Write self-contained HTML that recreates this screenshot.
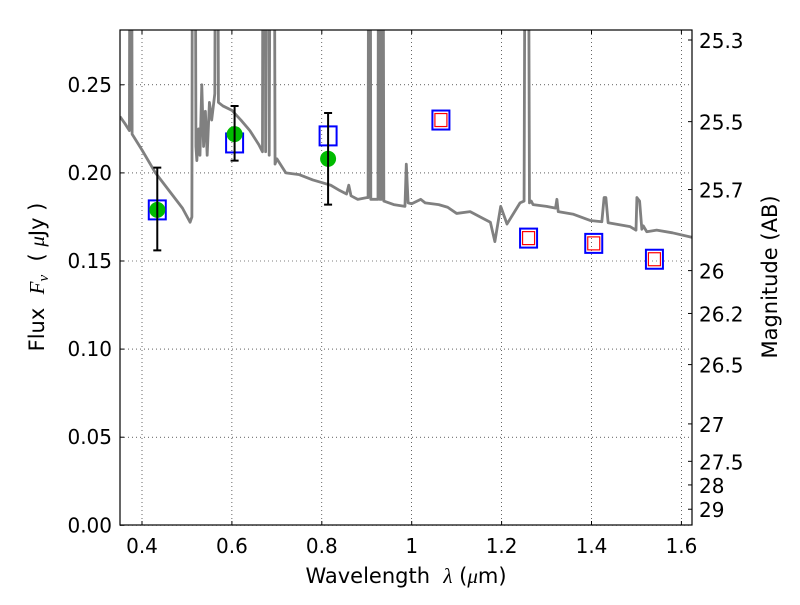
<!DOCTYPE html>
<html><head><meta charset="utf-8"><style>
html,body{margin:0;padding:0;background:#fff;}
svg text{font-family:"DejaVu Sans","Liberation Sans",sans-serif;fill:#000;}
</style></head><body>
<svg id="chart" width="800" height="600" xmlns="http://www.w3.org/2000/svg">
<defs><clipPath id="clip"><rect x="120" y="30" width="572" height="495"/></clipPath></defs>
<rect width="800" height="600" fill="#fff"/>
<g id="grid"></g>
<g id="spec" clip-path="url(#clip)"></g>
<g id="marks" clip-path="url(#clip)"></g>
<rect x="120" y="30" width="572" height="495" fill="none" stroke="#000" stroke-width="1.2"/>
<g id="axes"></g>
<text x="406" y="583" font-size="21" text-anchor="middle">Wavelength&#160;&#160;<tspan font-style="italic" font-family="Liberation Serif,serif">λ</tspan> (<tspan font-style="italic" font-family="Liberation Serif,serif">μ</tspan>m)</text>
<text transform="translate(44,277) rotate(-90)" font-size="21" text-anchor="middle">Flux&#160;&#160;<tspan font-style="italic" font-family="Liberation Serif,serif">F<tspan font-size="15" dy="4">ν</tspan></tspan><tspan dy="-4">&#160;&#160;(&#160;</tspan><tspan font-style="italic" font-family="Liberation Serif,serif">μ</tspan>Jy&#160;)</text>
<text transform="translate(777,277) rotate(-90)" font-size="21" text-anchor="middle">Magnitude (AB)</text>
</svg>
<script>
const xTicks=[0.4,0.6,0.8,1.0,1.2,1.4,1.6];
const xTickLabels=["0.4","0.6","0.8","1","1.2","1.4","1.6"];
const yTicks=[0,0.05,0.10,0.15,0.20,0.25];
const yTickLabels=["0.00","0.05","0.10","0.15","0.20","0.25"];
const magTicks=[25.3,25.5,25.7,26,26.2,26.5,27,27.5,28,29];
const magTickLabels=["25.3","25.5","25.7","26","26.2","26.5","27","27.5","28","29"];
const specLam=[0.351,0.362,0.372,0.374,0.376,0.378,0.40,0.43,0.46,0.49,0.507,0.511,0.513,0.517,0.520,0.522,0.526,0.529,0.533,0.537,0.541,0.545,0.55,0.555,0.562,0.565,0.567,0.570,0.58,0.60,0.62,0.64,0.66,0.668,0.670,0.673,0.675,0.677,0.679,0.683,0.687,0.689,0.691,0.693,0.696,0.70,0.72,0.75,0.78,0.80,0.82,0.84,0.855,0.86,0.865,0.88,0.90,0.903,0.905,0.907,0.909,0.925,0.927,0.929,0.933,0.935,0.938,0.96,0.985,0.988,0.992,1.0,1.02,1.03,1.06,1.08,1.10,1.13,1.16,1.175,1.185,1.198,1.212,1.241,1.250,1.254,1.258,1.262,1.266,1.27,1.30,1.32,1.323,1.326,1.36,1.397,1.423,1.428,1.432,1.437,1.486,1.499,1.501,1.507,1.512,1.515,1.523,1.545,1.58,1.624];
const specFlux=[0.232,0.228,0.224,0.5,0.5,0.222,0.213,0.200,0.190,0.180,0.172,0.175,0.5,0.5,0.215,0.207,0.225,0.210,0.25,0.215,0.235,0.210,0.24,0.23,0.245,0.5,0.5,0.24,0.238,0.2355,0.230,0.224,0.216,0.212,0.5,0.5,0.212,0.5,0.5,0.21,0.5,0.5,0.5,0.5,0.205,0.208,0.200,0.199,0.196,0.1945,0.193,0.190,0.188,0.193,0.187,0.185,0.186,0.186,0.5,0.5,0.185,0.185,0.5,0.185,0.185,0.5,0.184,0.182,0.181,0.205,0.183,0.1825,0.185,0.183,0.182,0.1805,0.177,0.178,0.174,0.172,0.161,0.181,0.171,0.183,0.184,0.5,0.5,0.183,0.184,0.182,0.181,0.180,0.185,0.178,0.1765,0.173,0.1723,0.186,0.186,0.1717,0.1695,0.1675,0.186,0.184,0.168,0.170,0.1666,0.1675,0.166,0.1634];
const obsLam=[0.434,0.606,0.814];
const obsFlux=[0.179,0.222,0.208];
const obsErrLo=[0.156,0.207,0.182];
const obsErrHi=[0.203,0.238,0.234];
const modelLam=[0.434,0.606,0.814,1.065,1.26,1.405,1.54];
const modelFlux=[0.179,0.217,0.221,0.230,0.163,0.160,0.151];
const predLam=[1.065,1.26,1.405,1.54];
const predFlux=[0.230,0.163,0.160,0.151];

const NS="http://www.w3.org/2000/svg";
const X=v=>142+(v-0.4)*449.5;
const Y=v=>525.3-v*1762;
const magToFlux=m=>Math.pow(10,(23.9-m)/2.5);
function mk(tag,attrs,parent){const e=document.createElementNS(NS,tag);for(const k in attrs)e.setAttribute(k,attrs[k]);parent.appendChild(e);return e;}
const grid=document.getElementById('grid'),axes=document.getElementById('axes'),spec=document.getElementById('spec'),marks=document.getElementById('marks');
xTicks.forEach((t,i)=>{
  const x=X(t);
  const g=mk('line',{x1:x,x2:x,y1:30,y2:525,stroke:'#000','stroke-width':0.6,'stroke-dasharray':'1,3'},grid);
  
  
  mk('line',{x1:x,x2:x,y1:525,y2:521,stroke:'#000'},axes);
  mk('line',{x1:x,x2:x,y1:30,y2:34,stroke:'#000'},axes);
  const tx=mk('text',{x:x,y:553,'font-size':20,'text-anchor':'middle'},axes);
  tx.textContent=xTickLabels[i];
  
  
});
yTicks.forEach((t,i)=>{
  const y=Y(t);
  const g=mk('line',{x1:120,x2:692,y1:y,y2:y,stroke:'#000','stroke-width':0.6,'stroke-dasharray':'1,3'},grid);
  
  
  mk('line',{x1:120,x2:124,y1:y,y2:y,stroke:'#000'},axes);
  const tx=mk('text',{x:112,y:y+7,'font-size':20,'text-anchor':'end'},axes);
  tx.textContent=yTickLabels[i];
  
  
});
magTicks.forEach((m,i)=>{
  const y=Y(magToFlux(m));
  mk('line',{x1:692,x2:688,y1:y,y2:y,stroke:'#000'},axes);
  const tx=mk('text',{x:699,y:y+8,'font-size':20},axes);
  tx.textContent=magTickLabels[i];
  
  
});
const p=mk('polyline',{points:specLam.map((l,i)=>X(l)+','+Y(specFlux[i])).join(' '),fill:'none',stroke:'#808080','stroke-width':2.8,'stroke-linejoin':'round'},spec);


modelLam.forEach((l,i)=>{
  const r=mk('rect',{x:X(l)-8.5,y:Y(modelFlux[i])-9.5,width:17,height:19,fill:'none',stroke:'#0000ff','stroke-width':2},marks);
  
  
});
predLam.forEach((l,i)=>{
  const r=mk('rect',{x:X(l)-6,y:Y(predFlux[i])-6.5,width:12,height:13,fill:'none',stroke:'#ff0000','stroke-width':1.2},marks);
  
  
});
obsLam.forEach((l,i)=>{
  const x=X(l);
  const c=mk('circle',{cx:x,cy:Y(obsFlux[i]),r:8,fill:'#00bb00'},marks);
  
  
  const e=mk('path',{d:`M${x},${Y(obsErrLo[i])}V${Y(obsErrHi[i])}M${x-4},${Y(obsErrLo[i])}h8M${x-4},${Y(obsErrHi[i])}h8`,stroke:'#000','stroke-width':2,fill:'none'},marks);
  
  
});
</script>
</body></html>
